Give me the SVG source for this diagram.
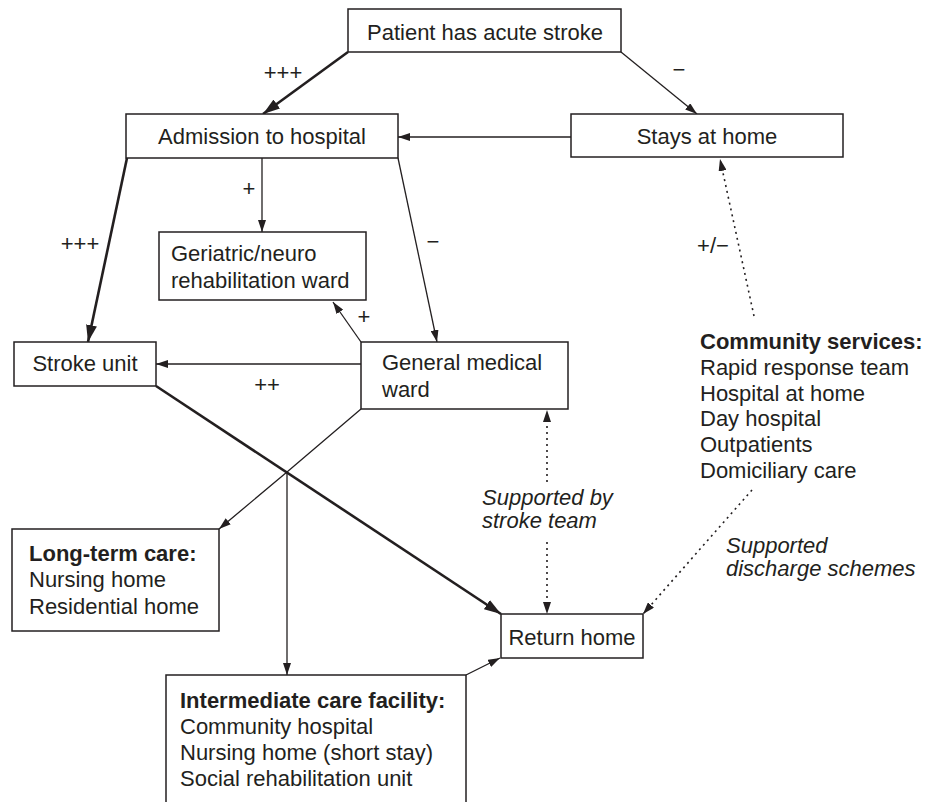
<svg xmlns="http://www.w3.org/2000/svg" width="930" height="802" viewBox="0 0 930 802">
<style>
text{font-family:"Liberation Sans",Arial,sans-serif;font-size:22px;fill:#231f20}
.b{font-weight:bold}
.i{font-style:italic}
.c{text-anchor:middle}
rect{fill:#fff;stroke:#231f20;stroke-width:1.5}
.ln{stroke:#231f20;stroke-width:1.3;fill:none}
.th{stroke:#231f20;stroke-width:2.6;fill:none}
.dt{stroke:#231f20;stroke-width:1.6;fill:none;stroke-dasharray:2 4}
</style>
<defs>
<marker id="a" viewBox="0 0 12 8" refX="12" refY="4" markerWidth="12" markerHeight="8" orient="auto" markerUnits="userSpaceOnUse"><path d="M0,0 L12,4 L0,8 z" fill="#231f20"/></marker>
<marker id="ad" viewBox="0 0 12 8" refX="12" refY="4" markerWidth="12" markerHeight="8" orient="auto-start-reverse" markerUnits="userSpaceOnUse"><path d="M0,0 L12,4 L0,8 z" fill="#231f20"/></marker>
<marker id="at" viewBox="0 0 17 11" refX="17" refY="5.5" markerWidth="17" markerHeight="11" orient="auto" markerUnits="userSpaceOnUse"><path d="M0,0 L17,5.5 L0,11 z" fill="#231f20"/></marker>
</defs>

<g id="connectors">
<line class="th" x1="348" y1="52" x2="263" y2="114" marker-end="url(#at)"/>
<line class="ln" x1="621" y1="52" x2="697" y2="114" marker-end="url(#a)"/>
<line class="ln" x1="571" y1="137" x2="398" y2="137" marker-end="url(#a)"/>
<line class="th" x1="127" y1="158" x2="88" y2="342" marker-end="url(#at)"/>
<line class="ln" x1="262" y1="158" x2="262" y2="232" marker-end="url(#a)"/>
<line class="ln" x1="398" y1="158" x2="437" y2="342" marker-end="url(#a)"/>
<line class="ln" x1="361" y1="342" x2="333" y2="302" marker-end="url(#a)"/>
<line class="ln" x1="361" y1="364" x2="156" y2="364" marker-end="url(#a)"/>
<line class="th" x1="156" y1="386" x2="501" y2="614" marker-end="url(#at)"/>
<polyline class="ln" points="361,409 287,472 219,529" marker-end="url(#a)"/>
<line class="ln" x1="287" y1="472" x2="287" y2="675" marker-end="url(#a)"/>
<line class="ln" x1="466" y1="675" x2="500" y2="658" marker-end="url(#a)"/>
<line class="dt" x1="547" y1="482" x2="547" y2="410" marker-end="url(#ad)"/>
<line class="dt" x1="547" y1="542" x2="547" y2="614" marker-end="url(#ad)"/>
<line class="dt" x1="754" y1="316" x2="720" y2="159" marker-end="url(#ad)"/>
<line class="dt" x1="752" y1="490" x2="643" y2="614" marker-end="url(#ad)"/>
<text x="283" y="80" class="c">+++</text>
<text x="679" y="77" class="c">−</text>
<text x="80" y="251" class="c">+++</text>
<text x="249" y="196" class="c">+</text>
<text x="433" y="249" class="c">−</text>
<text x="364" y="324" class="c">+</text>
<text x="267" y="392" class="c">++</text>
<text x="713" y="253" class="c">+/−</text>
<text x="482" y="505" class="i">Supported by</text>
<text x="482" y="528" class="i">stroke team</text>
<text x="726" y="553" class="i">Supported</text>
<text x="726" y="576" class="i">discharge schemes</text>
</g>

<g id="patient">
<rect x="348" y="9" width="273" height="43"/>
<text x="485" y="40" class="c">Patient has acute stroke</text>
</g>
<g id="admission">
<rect x="126" y="114" width="272" height="44"/>
<text x="262" y="144" class="c">Admission to hospital</text>
</g>
<g id="stays-home">
<rect x="571" y="114" width="272" height="43"/>
<text x="707" y="144" class="c">Stays at home</text>
</g>
<g id="geriatric">
<rect x="159" y="232" width="207" height="68"/>
<text x="171" y="261">Geriatric/neuro</text>
<text x="171" y="288">rehabilitation ward</text>
</g>
<g id="stroke-unit">
<rect x="14" y="342" width="142" height="44"/>
<text x="85" y="371" class="c">Stroke unit</text>
</g>
<g id="general-medical">
<rect x="361" y="342" width="207" height="67"/>
<text x="382" y="370">General medical</text>
<text x="382" y="397">ward</text>
</g>
<g id="community-services">
<text x="700" y="349" class="b">Community services:</text>
<text x="700" y="375">Rapid response team</text>
<text x="700" y="401">Hospital at home</text>
<text x="700" y="426">Day hospital</text>
<text x="700" y="452">Outpatients</text>
<text x="700" y="478">Domiciliary care</text>
</g>
<g id="long-term-care">
<rect x="12" y="529" width="207" height="102"/>
<text x="29" y="561" class="b">Long-term care:</text>
<text x="29" y="587">Nursing home</text>
<text x="29" y="614">Residential home</text>
</g>
<g id="return-home">
<rect x="501" y="614" width="142" height="44"/>
<text x="572" y="645" class="c">Return home</text>
</g>
<g id="intermediate-care">
<rect x="166" y="675" width="300" height="140"/>
<text x="180" y="708" class="b">Intermediate care facility:</text>
<text x="180" y="734">Community hospital</text>
<text x="180" y="760">Nursing home (short stay)</text>
<text x="180" y="786">Social rehabilitation unit</text>
</g>
</svg>
